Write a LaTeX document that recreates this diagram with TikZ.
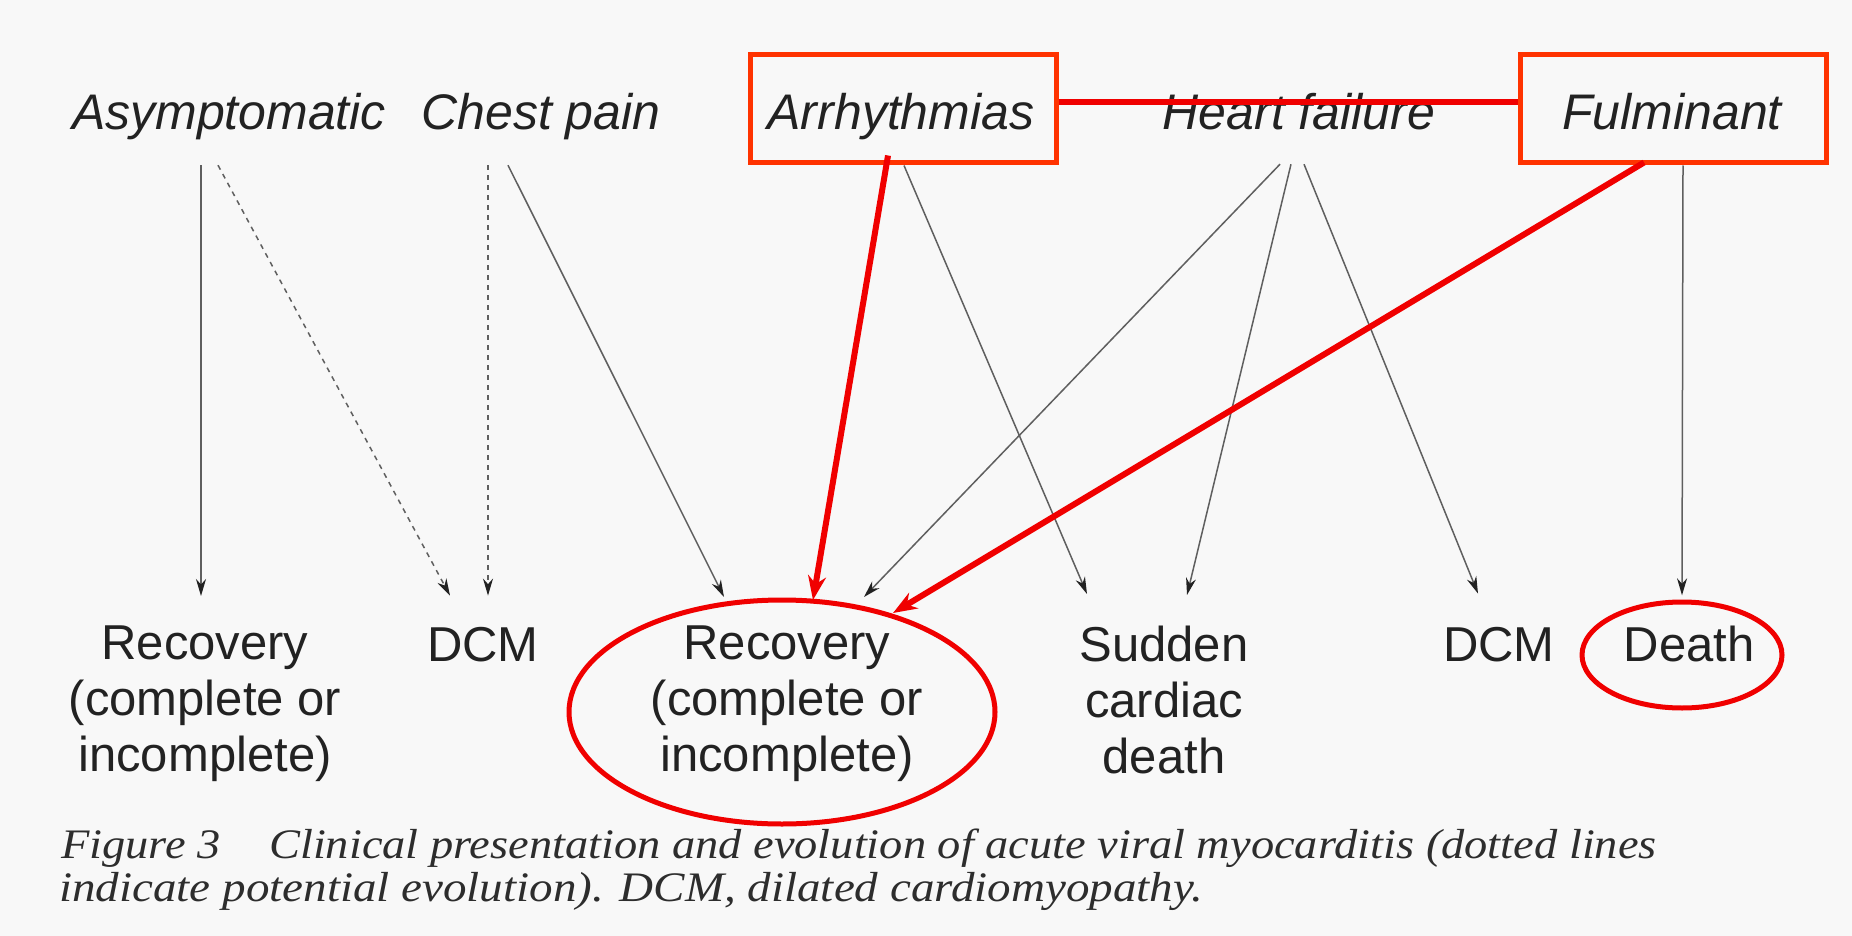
\documentclass[tikz,border=0pt]{standalone}
\usepackage{fontspec}
\setmainfont{Liberation Sans}
\newfontfamily\capfont{Liberation Serif}
\usetikzlibrary{arrows.meta,shapes.geometric,calc}
\definecolor{bg}{RGB}{248,248,248}
\definecolor{ink}{RGB}{34,34,34}
\definecolor{capcol}{RGB}{45,45,45}
\definecolor{lineg}{RGB}{95,95,95}
\definecolor{boxred}{RGB}{255,51,0}
\definecolor{arrred}{RGB}{240,0,0}
\begin{document}
\begin{tikzpicture}[x=1pt,y=-1pt,
  lab/.style={inner sep=0pt, text=ink, font=\fontsize{50}{58}\selectfont\itshape, anchor=base, text height=36pt, text depth=12pt},
  outc/.style={inner sep=0pt, text=ink, font=\fontsize{49}{56}\selectfont, align=center},
  redbox/.style={draw=boxred, line width=5pt, minimum width=306pt, minimum height=108pt, inner sep=0pt},
  ring/.style={draw=arrred, line width=5pt, ellipse, inner sep=0pt},
  thinarrow/.style={draw=lineg, line width=1.5pt, -{Stealth[length=17pt,width=10pt,color=ink]}},
  dotarrow/.style={thinarrow, dash pattern=on 5pt off 5pt},
  redarrow/.style={draw=arrred, line width=6pt, -{Stealth[length=24pt,width=18pt]}},
  capstyle/.style={inner sep=0pt, text=capcol, anchor=base west, font=\capfont\itshape\fontsize{42}{46}\selectfont},
]
\fill[bg] (0,0) rectangle (1852,936);
\useasboundingbox (0,0) rectangle (1852,936);

% top row
\node[lab] (asym)  at (229,130)  {Asymptomatic};
\node[lab] (chest) at (541,130)  {Chest pain};
\node[lab] (arr)   at (901,130)  {Arrhythmias};
\node[lab] (heart) at (1299,130) {Heart failure};
\node[lab] (ful)   at (1672,130) {Fulminant};
\node[redbox] (arrbox) at (903,109)  {};
\node[redbox] (fulbox) at (1673,109) {};
\draw[draw=arrred, line width=6pt] ([yshift=7pt]arrbox.east) -- ([yshift=7pt]fulbox.west);

% bottom row
\node[outc, anchor=north] (rec1) at (205,626)  {Recovery\\(complete or\\incomplete)};
\node[outc, anchor=base]  (dcm1) at (483,661)  {DCM};
\node[outc, anchor=north] (rec2) at (787,626)  {Recovery\\(complete or\\incomplete)};
\node[outc, anchor=north] (scd)  at (1164,626) {Sudden\\cardiac\\death};
\node[outc, anchor=base]  (dcm2) at (1499,661) {DCM};
\node[outc, anchor=base]  (death) at (1689,661) {Death};
\node[ring, minimum width=426pt, minimum height=224pt] (rec2ring) at (782,712) {};
\node[ring, minimum width=200pt, minimum height=106pt] (deathring) at (1682,655) {};

% connectors
\draw[thinarrow] ([shift={(-28,23)}]asym.south) -- ([shift={(-4,-30)}]rec1.north);
\draw[dotarrow]  ([shift={(-11,23)}]asym.south) -- ([shift={(-33,-31)}]dcm1.north);
\draw[dotarrow]  ([shift={(-53,23)}]chest.south) -- ([shift={(5,-31)}]dcm1.north);
\draw[thinarrow] ([shift={(-33,23)}]chest.south) -- ([shift={(-63,-29)}]rec2.north);
\draw[thinarrow] ([shift={(1,0)}]arrbox.south) -- ([shift={(-77,-32)}]scd.north);
\draw[thinarrow] ([shift={(-19,22)}]heart.south) -- ([shift={(77,-29)}]rec2.north);
\draw[thinarrow] ([shift={(-8,22)}]heart.south) -- ([shift={(23,-31)}]scd.north);
\draw[thinarrow] ([shift={(5,22)}]heart.south) -- ([shift={(-21,-33)}]dcm2.north);
\draw[thinarrow] ([shift={(10,0)}]fulbox.south) -- ([shift={(-7,-30)}]death.north);
\draw[redarrow]  ([shift={(-15,-10)}]arrbox.south) -- ([shift={(26,-26)}]rec2.north);
\draw[redarrow]  ([shift={(-29,-3)}]fulbox.south) -- ([shift={(106,-13)}]rec2.north);

% caption
\node[capstyle] (cap1) at (61,858) {\scalebox{1.105}[1]{Figure 3\hspace*{44pt}Clinical presentation and evolution of acute viral myocarditis (dotted lines}};
\node[capstyle] (cap2) at (59,901) {\scalebox{1.12}[1]{indicate potential evolution). DCM, dilated cardiomyopathy.}};
\end{tikzpicture}
\end{document}
